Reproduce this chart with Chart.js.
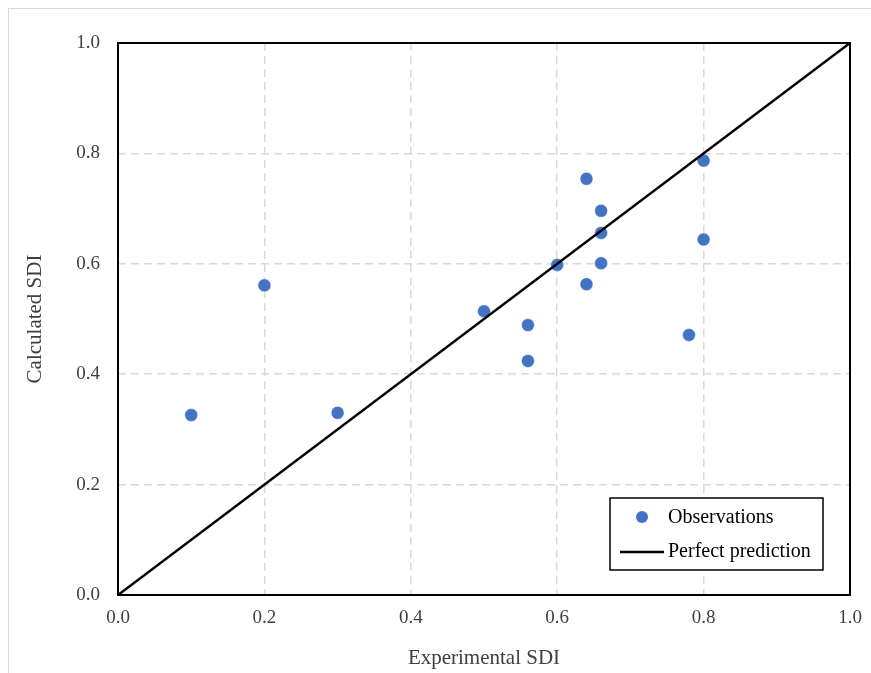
<!DOCTYPE html>
<html>
<head>
<meta charset="utf-8">
<script src="https://cdn.jsdelivr.net/npm/chart.js@4.4.1/dist/chart.umd.min.js"></script>
<style>
  html, body { margin: 0; padding: 0; background: #ffffff; }
  #wrap { width: 871px; height: 673px; }
</style>
</head>
<body>
<div id="wrap"><canvas id="c" width="871" height="673"></canvas></div>
<script>
// ---- Data ----
const experimentalSDI = [0.10, 0.20, 0.30, 0.50, 0.56, 0.56, 0.60, 0.64, 0.64, 0.66, 0.66, 0.66, 0.80, 0.80, 0.78];
const calculatedSDI   = [0.326, 0.561, 0.330, 0.514, 0.489, 0.424, 0.598, 0.754, 0.563, 0.696, 0.656, 0.601, 0.787, 0.644, 0.471];
const perfectX = [0.0, 1.0];
const perfectY = [0.0, 1.0];
const tickValues = [0.0, 0.2, 0.4, 0.6, 0.8, 1.0];
const seriesNames = ['Observations', 'Perfect prediction'];
const axisTitles = { x: 'Experimental SDI', y: 'Calculated SDI' };

const FONT = "'Liberation Serif', 'Times New Roman', serif";
const TEXT = '#404040';

const obsPoints = experimentalSDI.map((x, i) => ({ x: x, y: calculatedSDI[i] }));
const linePoints = perfectX.map((x, i) => ({ x: x, y: perfectY[i] }));

const framePlugin = {
  id: 'frame',
  beforeDraw(chart) {
    const ctx = chart.ctx;
    ctx.save();
    ctx.fillStyle = '#ffffff';
    ctx.fillRect(0, 0, chart.width, chart.height);
    ctx.strokeStyle = '#d9d9d9';
    ctx.lineWidth = 1;
    ctx.strokeRect(8.5, 8.5, chart.width + 20, chart.height + 20);
    ctx.restore();
  },
  beforeDatasetsDraw(chart) {
    const a = chart.chartArea;
    const ctx = chart.ctx;
    ctx.save();
    ctx.strokeStyle = '#000000';
    ctx.lineWidth = 2;
    ctx.strokeRect(a.left, a.top, a.right - a.left, a.bottom - a.top);
    ctx.restore();
  },
  afterDraw(chart) {
    const a = chart.chartArea;
    const ctx = chart.ctx;
    const ds = chart.data.datasets;
    const bx = a.right - 240, by = a.bottom - 97, bw = 213, bh = 72;
    ctx.save();
    ctx.fillStyle = '#ffffff';
    ctx.fillRect(bx, by, bw, bh);
    ctx.strokeStyle = '#000000';
    ctx.lineWidth = 1.5;
    ctx.strokeRect(bx, by, bw, bh);
    ctx.font = "20px " + FONT;
    ctx.fillStyle = '#000000';
    ctx.textBaseline = 'middle';
    ctx.textAlign = 'left';
    const y1 = by + 19, y2 = by + 54;
    ctx.beginPath();
    ctx.arc(bx + 32, y1, 6, 0, Math.PI * 2);
    ctx.fillStyle = ds[0].backgroundColor;
    ctx.fill();
    ctx.fillStyle = '#000000';
    ctx.fillText(ds[0].label, bx + 58, y1 + 1);
    ctx.beginPath();
    ctx.moveTo(bx + 10, y2);
    ctx.lineTo(bx + 54, y2);
    ctx.strokeStyle = ds[1].borderColor;
    ctx.lineWidth = 2.5;
    ctx.stroke();
    ctx.fillText(ds[1].label, bx + 58, y2);
    ctx.restore();
  }
};

const axisCommon = {
  type: 'linear',
  min: 0,
  max: 1,
  afterBuildTicks: (scale) => { scale.ticks = tickValues.map(v => ({ value: v })); },
  grid: { color: '#d9d9d9', lineWidth: 1.5, drawTicks: false },
  border: { display: false, dash: [8, 5] },
};

new Chart(document.getElementById('c'), {
  type: 'scatter',
  data: {
    datasets: [
      {
        label: seriesNames[0],
        data: obsPoints,
        backgroundColor: '#4472C4',
        borderColor: 'rgba(255,255,255,0.5)',
        borderWidth: 1,
        pointRadius: 6.5,
        order: 2
      },
      {
        label: seriesNames[1],
        type: 'line',
        data: linePoints,
        borderColor: '#000000',
        borderWidth: 2.5,
        pointRadius: 0,
        fill: false,
        order: 1
      }
    ]
  },
  options: {
    responsive: false,
    animation: false,
    devicePixelRatio: 1,
    layout: { padding: { left: 0, top: 43, right: 21, bottom: 0 } },
    plugins: { legend: { display: false }, tooltip: { enabled: false } },
    scales: {
      x: Object.assign({}, axisCommon, {
        position: 'bottom',
        afterFit: (s) => { s.height = 78; s.paddingLeft = 0; s.paddingRight = 0; },
        ticks: { padding: 12, color: TEXT, font: { family: FONT, size: 19 }, callback: v => Number(v).toFixed(1) },
        title: { display: true, text: axisTitles.x, color: TEXT, font: { family: FONT, size: 21 }, padding: { top: 0, bottom: 2 } }
      }),
      y: Object.assign({}, axisCommon, {
        position: 'left',
        afterFit: (s) => { s.width = 118; s.paddingTop = 0; s.paddingBottom = 0; },
        ticks: { padding: 18, color: TEXT, font: { family: FONT, size: 19 }, callback: v => Number(v).toFixed(1) },
        title: { display: true, text: axisTitles.y, color: TEXT, font: { family: FONT, size: 21 }, padding: { top: 23, bottom: 0 } }
      })
    }
  },
  plugins: [framePlugin]
});
</script>
</body>
</html>
